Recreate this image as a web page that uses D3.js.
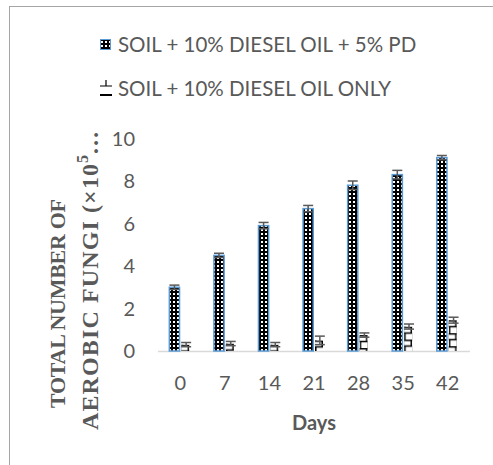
<!DOCTYPE html>
<html lang="en">
<head>
  <meta charset="UTF-8" />
  <title>Aerobic fungi</title>
  <script src="https://d3js.org/d3.v7.min.js"></script>
  <style>
    body { margin: 0; background: #fff; }
    text { font-family: Lato, "Liberation Sans", Arial, sans-serif; fill: #595959; }
  </style>
</head>
<body>
  <svg width="493" height="465"></svg>
  <script>
    // data
    const days = ["0", "7", "14", "21", "28", "35", "42"];
    const pdValues = [3.0, 4.5, 5.9, 6.7, 7.8, 8.3, 9.1];
    const pdErrors = [0.1, 0.1, 0.15, 0.15, 0.2, 0.2, 0.1];
    const oilValues = [0.3, 0.35, 0.3, 0.5, 0.75, 1.15, 1.45];
    const oilErrors = [0.1, 0.1, 0.1, 0.2, 0.1, 0.12, 0.14];
    const yTicks = [0, 2, 4, 6, 8, 10];
    const seriesNames = ["SOIL + 10% DIESEL OIL + 5% PD", "SOIL + 10% DIESEL OIL ONLY"];

    const svg = d3.select("svg");
    const defs = svg.append("defs");

    // black bar with small white dots
    const dots = defs.append("pattern")
      .attr("id", "dots")
      .attr("patternUnits", "userSpaceOnUse")
      .attr("width", 4).attr("height", 4);
    dots.append("rect").attr("width", 4).attr("height", 4).attr("fill", "#000");
    dots.append("rect").attr("x", 1).attr("y", 1).attr("width", 2).attr("height", 2).attr("fill", "#fff");

    // frame
    svg.append("rect")
      .attr("x", 9.5).attr("y", 6.5)
      .attr("width", 600).attr("height", 600)
      .attr("fill", "none").attr("stroke", "#a6a6a6");

    const x = d3.scaleBand().domain(days).range([158, 470])
      .paddingInner(0.475).paddingOuter(0.2375);
    const x1 = d3.scaleBand().domain([0, 1]).range([0, x.bandwidth()]);
    const y = d3.scaleLinear().domain([0, 10]).range([351, 138.5]);

    // y tick labels
    svg.append("g").selectAll("text").data(yTicks).enter().append("text")
      .attr("x", 135).attr("y", d => y(d))
      .attr("dy", "0.35em")
      .attr("text-anchor", "end")
      .style("font-size", "20px")
      .text(d => d);

    // x axis line and labels
    svg.append("line")
      .attr("x1", 158).attr("x2", 470)
      .attr("y1", y(0) + 0.5).attr("y2", y(0) + 0.5)
      .attr("stroke", "#d9d9d9").attr("stroke-width", 1.5);

    svg.append("g").selectAll("text").data(days).enter().append("text")
      .attr("x", d => x(d) + x.bandwidth() / 2)
      .attr("y", 383).attr("dy", "0.35em")
      .attr("text-anchor", "middle")
      .style("font-size", "20px")
      .text(d => d);

    svg.append("text")
      .attr("x", 314).attr("y", 423).attr("dy", "0.35em")
      .attr("text-anchor", "middle")
      .style("font-size", "20px").style("font-weight", "bold")
      .text("Days");

    // y axis title, two lines, rotated
    const yTitle = svg.append("text")
      .attr("transform", "rotate(-90)")
      .style("font-family", "'Liberation Serif', 'Times New Roman', serif")
      .style("font-weight", "bold").style("font-size", "22px");
    yTitle.append("tspan").attr("x", -408).attr("y", 65)
      .attr("textLength", 209).attr("lengthAdjust", "spacing")
      .text("TOTAL NUMBER OF");
    yTitle.append("tspan").attr("x", -430).attr("y", 98)
      .style("font-size", "24px")
      .attr("textLength", 266).attr("lengthAdjust", "spacing")
      .text("AEROBIC FUNGI (×10");
    yTitle.append("tspan").attr("dy", -10).style("font-size", "16px").text("5");
    yTitle.append("tspan").attr("dy", 10).style("font-size", "24px").text("…");

    // series 1 bars
    svg.append("g").selectAll("rect").data(pdValues).enter().append("rect")
      .attr("x", (d, i) => x(days[i]) + x1(0) + 0.75)
      .attr("y", d => y(d))
      .attr("width", x1.bandwidth() - 1.5)
      .attr("height", d => y(0) - y(d))
      .attr("fill", "url(#dots)")
      .attr("stroke", "#5b9bd5").attr("stroke-width", 1.5);

    // series 2 bars: white with a black step-line hatch
    oilValues.forEach((v, i) => {
      const bx = x(days[i]) + x1(1) + 1;
      const by = y(v);
      const w = 8;
      const p = defs.append("pattern")
        .attr("id", "step" + i)
        .attr("patternUnits", "userSpaceOnUse")
        .attr("x", bx).attr("y", by)
        .attr("width", w).attr("height", 13);
      p.append("path")
        .attr("d", `M0,0.75H${w - 0.75}V6.5H0.75V13`)
        .attr("fill", "none").attr("stroke", "#000").attr("stroke-width", 1.6);
      svg.append("rect")
        .attr("x", bx).attr("y", by)
        .attr("width", w).attr("height", y(0) - by)
        .attr("fill", `url(#step${i})`);
    });

    // error bars
    function errorBars(values, errors, s) {
      const g = svg.append("g").attr("stroke", "#595959").attr("stroke-width", 1.5);
      values.forEach((v, i) => {
        const c = x(days[i]) + x1(s) + x1.bandwidth() / 2;
        const top = y(v + errors[i]), bot = y(v - errors[i]);
        g.append("line").attr("x1", c).attr("x2", c).attr("y1", top).attr("y2", bot);
        g.append("line").attr("x1", c - 5).attr("x2", c + 5).attr("y1", top).attr("y2", top);
        g.append("line").attr("x1", c - 5).attr("x2", c + 5).attr("y1", bot).attr("y2", bot);
      });
    }
    errorBars(pdValues, pdErrors, 0);
    errorBars(oilValues, oilErrors, 1);

    // legend
    const legend = svg.append("g");
    legend.append("rect")
      .attr("x", 100.5).attr("y", 39.5).attr("width", 10).attr("height", 10)
      .attr("fill", "url(#dots)").attr("stroke", "#5b9bd5");
    legend.append("path")
      .attr("d", "M100,86H112M106,80V86")
      .attr("stroke", "#000").attr("stroke-width", 1.2);
    legend.append("path")
      .attr("d", "M100,95H112")
      .attr("stroke", "#000").attr("stroke-width", 2);
    legend.selectAll("text").data(seriesNames).enter().append("text")
      .attr("x", 118).attr("y", (d, i) => 44.5 + i * 44)
      .attr("dy", "0.35em")
      .style("font-size", "20.5px")
      .text(d => d);
  </script>
</body>
</html>
